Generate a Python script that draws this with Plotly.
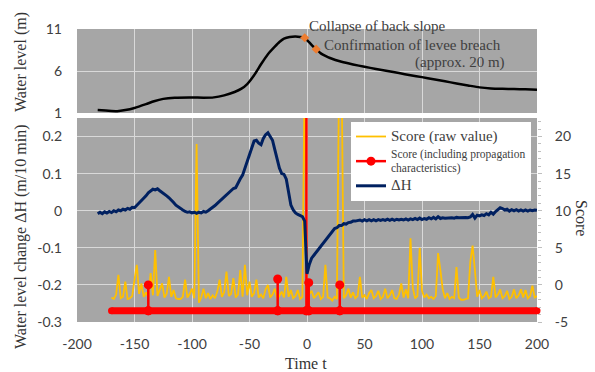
import plotly.graph_objects as go

# ---------------- data ----------------
# Top panel: water level (m)
level_t = [-182, -175, -165, -158, -150, -140, -133, -125, -115, -100,
           -90, -81, -72, -63, -57, -52, -46, -40, -34, -28,
           -24, -20, -15, -10, -6, -2, 2, 5, 8, 12,
           16, 20, 30, 40, 50, 60, 70, 80, 90, 100,
           110, 120, 130, 140, 150, 160, 170, 180, 190, 200]
level_m = [1.35, 1.30, 1.22, 1.35, 1.60, 2.05, 2.40, 2.68, 2.82, 2.85,
           2.82, 2.86, 3.10, 3.50, 3.90, 4.45, 5.50, 6.80, 8.00, 8.90,
           9.45, 9.85, 10.05, 10.10, 10.05, 9.95, 9.40, 8.95, 8.60, 8.10,
           7.80, 7.55, 7.10, 6.78, 6.50, 6.25, 6.00, 5.75, 5.50, 5.27,
           5.02, 4.77, 4.52, 4.28, 4.05, 3.93, 3.88, 3.85, 3.82, 3.78]
event_t = [-2, 8]
event_m = [9.95, 8.60]
event_labels = ["Collapse of back slope", "Confirmation of levee breach", "(approx. 20 m)"]

# Bottom panel: water level change dH (m/10 min), t = -182 .. 200 step 2
time_dh = list(range(-182, 201, 2))
dh = [
    -0.008, -0.004, -0.008, -0.003, -0.006, -0.002, -0.005, 0.000, -0.003, 0.002,
    0.000, 0.004, 0.002, 0.006, 0.004, 0.009, 0.008, 0.014, 0.020, 0.026,
    0.034, 0.040, 0.048, 0.053, 0.058, 0.056, 0.059, 0.054, 0.050, 0.046,
    0.040, 0.035, 0.027, 0.022, 0.015, 0.010, 0.005, 0.002, -0.002, -0.004,
    -0.003, -0.006, -0.004, -0.007, -0.004, -0.006, -0.002, -0.004, 0.000, 0.004,
    0.008, 0.014, 0.020, 0.026, 0.030, 0.038, 0.044, 0.050, 0.055, 0.060,
    0.062, 0.075, 0.086, 0.096, 0.115, 0.135, 0.150, 0.168, 0.188, 0.190,
    0.182, 0.178, 0.195, 0.205, 0.210, 0.200, 0.190, 0.165, 0.138, 0.115,
    0.100, 0.098, 0.085, 0.045, 0.015, 0.002, -0.006, -0.010, -0.012, -0.016,
    -0.028, -0.170, -0.145, -0.128, -0.120, -0.112, -0.105, -0.095, -0.090, -0.082,
    -0.072, -0.066, -0.056, -0.048, -0.046, -0.040, -0.040, -0.035, -0.036, -0.032,
    -0.031, -0.028, -0.028, -0.026, -0.025, -0.028, -0.024, -0.027, -0.024, -0.027,
    -0.024, -0.027, -0.024, -0.026, -0.024, -0.026, -0.023, -0.026, -0.023, -0.026,
    -0.023, -0.025, -0.023, -0.025, -0.022, -0.025, -0.022, -0.024, -0.021, -0.024,
    -0.020, -0.024, -0.021, -0.023, -0.019, -0.022, -0.018, -0.022, -0.016, -0.021,
    -0.019, -0.020, -0.019, -0.020, -0.019, -0.020, -0.018, -0.019, -0.018, -0.019,
    -0.018, -0.019, -0.017, -0.010, -0.020, -0.012, -0.014, -0.011, -0.013, -0.008,
    -0.011, -0.004, -0.009, -0.002, 0.004, 0.008, 0.006, 0.002, 0.004, -0.001,
    0.003, 0.000, 0.003, -0.001, 0.002, -0.001, 0.002, -0.001, 0.002, 0.000,
    0.002, 0.001,
]

# Score (raw value), t = -170 .. 200 step 2
time_score = list(range(-170, 201, 2))
score_raw = [
    -1.7, -1.9, -1.3, 1.35, -1.8, -1.6, 0.45, -1.9, -1.8, -1.5,
    0.7, 2.7, -1.2, 0.2, -1.6, -1.0, -1.7, 1.6, -1.4, 4.7,
    -1.5, -0.6, 0.2, -1.7, -1.2, 1.1, -1.6, -0.7, -1.8, -1.9,
    -1.9, -1.6, 0.7, -1.7, -1.2, -0.5, -1.8, 19.0, -2.4, -1.7,
    -0.5, -1.8, -1.1, -1.9, -1.4, -1.8, -0.9, 0.7, -1.6, -1.0,
    1.8, -1.5, -1.2, 0.9, -1.7, -1.3, 2.0, -1.6, 2.7, -1.4,
    0.45, -1.6, -1.1, 0.7, -1.7, -1.3, -1.8, -0.6, 0.0, -1.7,
    -1.3, -0.5, -1.8, -1.5, -0.9, -1.7, 1.1, -1.6, -0.7, -1.8,
    -1.5, -0.7, -1.9, -1.6, 30.0, -1.7, -1.2, -0.8, -1.8, -1.4,
    -1.0, -1.9, -1.6, 2.7, -1.7, -1.8, -2.1, -1.6, -1.9, 30.0,
    30.0, -1.8, -1.4, -0.5, -1.7, -1.0, -1.8, -1.5, 1.1, -1.7,
    -1.4, -1.9, -1.1, -0.7, -1.8, -1.5, -0.8, -1.9, -1.6, -0.5,
    -1.8, -1.4, -0.7, -1.8, -1.9, -1.3, 0.2, -1.7, -0.6, -1.8,
    6.3, -0.4, -1.8, -1.5, 5.0, -0.8, -1.7, -1.3, -1.8, -1.6,
    -1.9, -1.5, 4.3, 2.0, -0.6, -1.8, -1.1, -1.9, -1.6, -1.8,
    2.4, -1.7, -2.0, -2.0, -1.9, -1.8, 3.1, 5.3, 2.0, -1.6,
    -0.7, -1.8, -1.5, -0.9, -1.8, -1.6, 1.1, -1.7, -1.3, -0.6,
    -1.8, -1.5, -0.8, -1.9, -1.6, -0.6, -1.8, -1.4, -0.6, -1.7,
    -0.7, -1.8, -1.5, -0.1, -1.7, -1.5,
]

# Score (including propagation characteristics)
prop_span = [-170, 200]
prop_base = -3.5
prop_t = [-138, -25.5, -0.5, 1.5, 28.5]
prop_score = [0.0, 0.8, 30.0, 0.3, 0.0]

x_ticks = [-200, -150, -100, -50, 0, 50, 100, 150, 200]
level_ticks = [1, 6, 11]
dh_ticks = [-0.3, -0.2, -0.1, 0, 0.1, 0.2]
dh_ticklabels = ["-0.3", "-0.2", "-0.1", "0", "0.1", "0.2"]
score_ticks = [-5, 0, 5, 10, 15, 20]

# ---------------- styles ----------------
BG = "#a6a6a6"
GRID = "#d9d9d9"
TICKFONT = dict(family="Lato", size=14, color="#404040")
SERIF = "Liberation Serif"
TXT = "#404040"

fig = go.Figure()

# top panel
fig.add_trace(go.Scatter(x=level_t, y=level_m, xaxis="x", yaxis="y", mode="lines",
                         line=dict(color="black", width=2.5, shape="spline", smoothing=0.6),
                         showlegend=False, hoverinfo="skip"))
fig.add_trace(go.Scatter(x=event_t, y=event_m, xaxis="x", yaxis="y", mode="markers",
                         marker=dict(color="#ed7d31", size=7, symbol="diamond"),
                         showlegend=False, hoverinfo="skip"))

# bottom panel: score raw
fig.add_trace(go.Scatter(x=time_score, y=score_raw, xaxis="x2", yaxis="y2", mode="lines",
                         line=dict(color="#ffc000", width=1.8),
                         name='<span style="font-size:15px">Score (raw value)</span>'))

# propagation score stems
sx, sy = [], []
for t, s in zip(prop_t, prop_score):
    sx += [t, t, t]
    sy += [prop_base, s, prop_base]
fig.add_trace(go.Scatter(x=sx, y=sy, xaxis="x2", yaxis="y2", mode="lines+markers",
                         line=dict(color="#ff0000", width=2.5),
                         marker=dict(color="#ff0000", size=9),
                         name='<span style="font-size:11.5px">Score (including propagation</span><br>'
                              '<span style="font-size:11.5px">characteristics)</span>'))
# thick baseline of the propagation score
fig.add_trace(go.Scatter(x=prop_span, y=[prop_base] * len(prop_span), xaxis="x2", yaxis="y2",
                         mode="lines+markers", line=dict(color="#ff0000", width=7),
                         marker=dict(color="#ff0000", size=7), cliponaxis=False,
                         showlegend=False, hoverinfo="skip"))

# dH
fig.add_trace(go.Scatter(x=time_dh, y=dh, xaxis="x2", yaxis="y3", mode="lines",
                         line=dict(color="#002060", width=3),
                         name='<span style="font-size:15px">ΔH</span>'))

top_bottom = (322 - 113) / 293
bot_top = (322 - 118) / 293

fig.update_layout(
    width=595, height=372,
    margin=dict(l=77, r=58, t=29, b=50),
    paper_bgcolor="white", plot_bgcolor=BG,
    xaxis=dict(domain=[0, 1], anchor="y", range=[-200, 200], tickvals=x_ticks,
               showticklabels=False, showgrid=True, gridcolor=GRID, zeroline=False, ticks=""),
    yaxis=dict(domain=[top_bottom, 1], anchor="x", range=[1, 11], tickvals=level_ticks,
               ticktext=[str(v) for v in level_ticks], showgrid=True, gridcolor=GRID,
               zeroline=False, tickfont=TICKFONT, ticklabelstandoff=14),
    xaxis2=dict(domain=[0, 1], anchor="y2", range=[-200, 200], tickvals=x_ticks,
                ticktext=[str(v) for v in x_ticks], showgrid=True, gridcolor=GRID,
                zeroline=False, tickfont=TICKFONT, ticklabelstandoff=12),
    yaxis2=dict(domain=[0, bot_top], anchor="x2", side="right", range=[-5, 22.5],
                tickvals=score_ticks, ticktext=[str(v) for v in score_ticks],
                showgrid=True, gridcolor=GRID, zeroline=False, tickfont=TICKFONT,
                ticks="outside", ticklen=4, tickcolor="#bfbfbf", ticklabelstandoff=10,
                minor=dict(dtick=1, ticks="outside", ticklen=3, tickcolor="#bfbfbf", showgrid=False)),
    yaxis3=dict(domain=[0, bot_top], anchor="x2", overlaying="y2", side="left",
                range=[-0.3, 0.25], tickvals=dh_ticks, ticktext=dh_ticklabels,
                showgrid=False, zeroline=False, tickfont=TICKFONT, ticklabelstandoff=14),
    legend=dict(x=(351 - 77) / 460, y=(322 - 122) / 293, xanchor="left", yanchor="top",
                bgcolor="white", font=dict(family=SERIF, size=10.5, color=TXT),
                tracegroupgap=0, itemwidth=30),
    showlegend=True,
)

ann = [
    dict(text=event_labels[0], x=(307 - 77) / 460, y=(322 - 26) / 293, xanchor="left", yanchor="middle"),
    dict(text=event_labels[1], x=(322 - 77) / 460, y=(322 - 45) / 293, xanchor="left", yanchor="middle"),
    dict(text=event_labels[2], x=(507 - 77) / 460, y=(322 - 63) / 293, xanchor="right", yanchor="middle"),
]
for a in ann:
    fig.add_annotation(xref="paper", yref="paper", showarrow=False,
                       font=dict(family=SERIF, size=15, color=TXT), **a)

titles = [
    dict(text="Water level (m)", x=(21 - 77) / 460, y=(322 - 62) / 293, textangle=-90),
    dict(text="Water level change ΔH (m/10 min)", x=(21 - 77) / 460, y=(322 - 237) / 293, textangle=-90),
    dict(text="Score", x=(582 - 77) / 460, y=(322 - 218) / 293, textangle=90),
    dict(text="Time t", x=(306 - 77) / 460, y=(322 - 363) / 293, textangle=0),
]
for a in titles:
    fig.add_annotation(xref="paper", yref="paper", showarrow=False, xanchor="center", yanchor="middle",
                       font=dict(family=SERIF, size=16, color="#333333"), **a)

fig.write_html("out.html", config={"displayModeBar": False},
               post_script="document.body.style.margin='0';")
